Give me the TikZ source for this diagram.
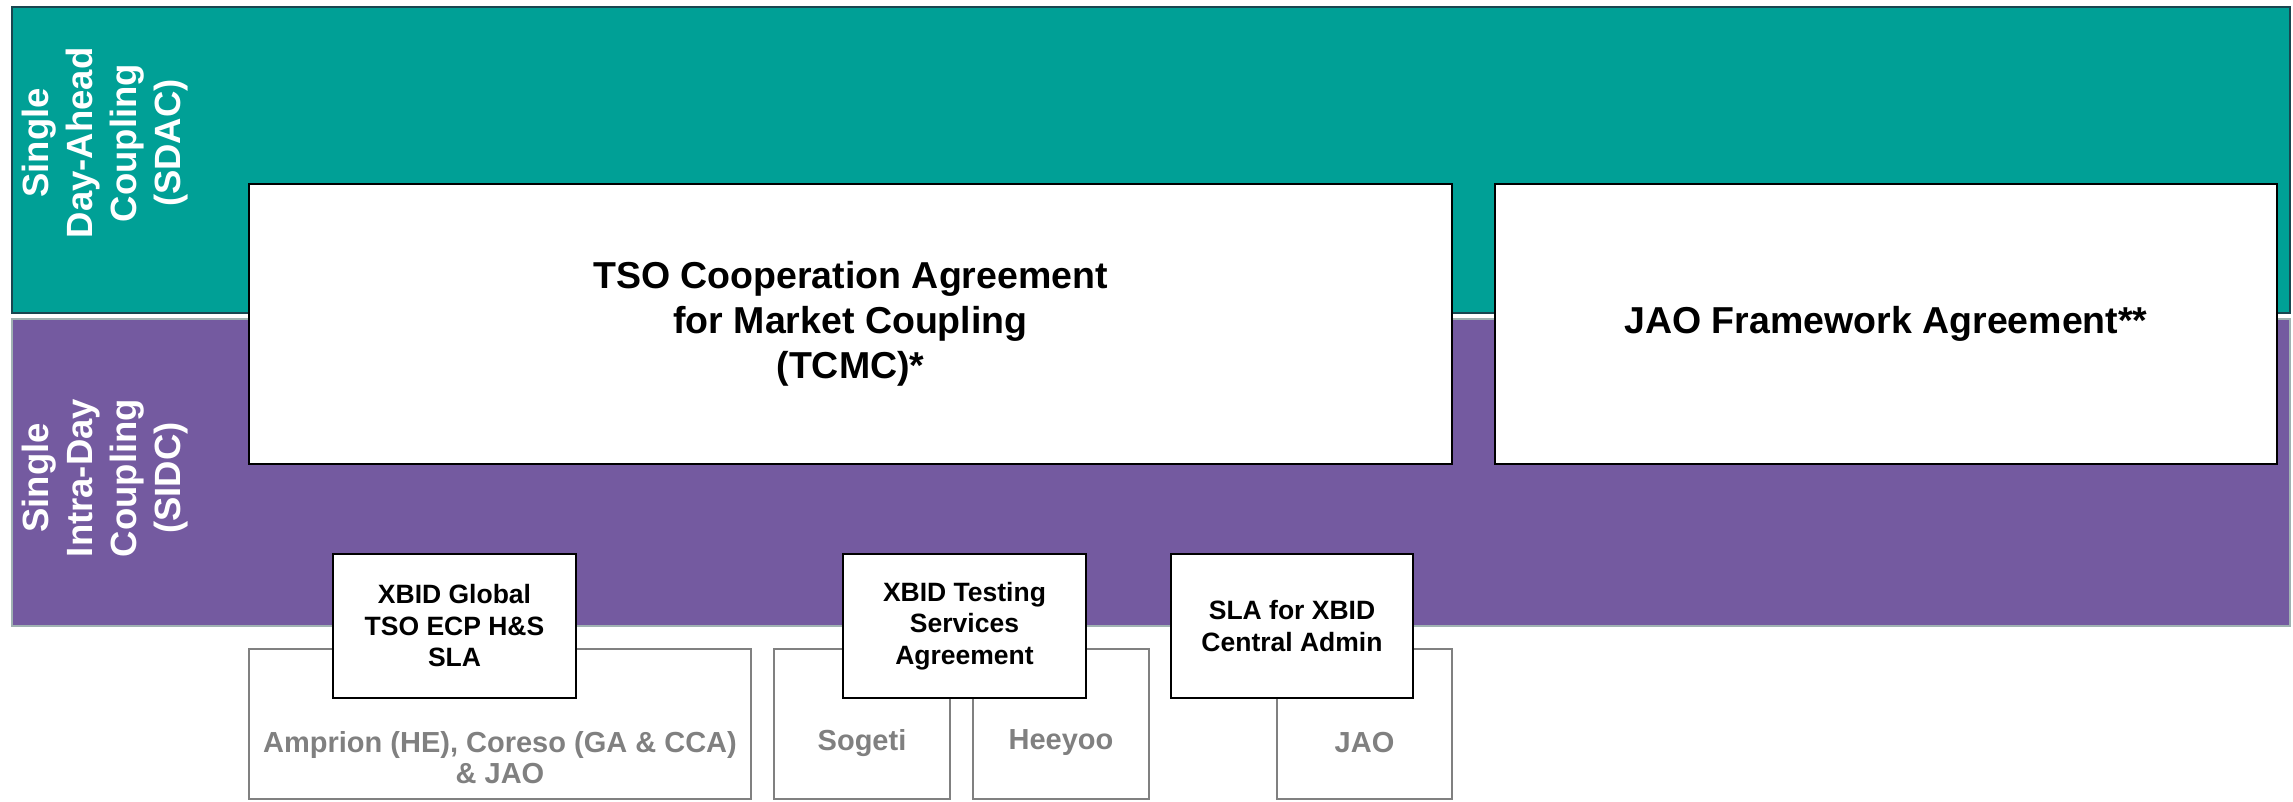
\documentclass[tikz,border=0pt]{standalone}
\usepackage{fontspec}
\setmainfont{Liberation Sans}
\definecolor{teal}{RGB}{0,160,150}
\definecolor{purp}{RGB}{116,90,160}
\definecolor{tealline}{RGB}{25,70,80}
\definecolor{purpline}{RGB}{160,178,178}
\definecolor{grayc}{RGB}{128,128,128}
\begin{document}
\begin{tikzpicture}[x=1pt,y=-1pt,
  band/.style={rectangle,inner sep=0pt,outer sep=0pt},
  bigbox/.style={rectangle,draw=black,line width=2.5pt,fill=white,inner sep=0pt,outer sep=0pt,align=center,
    font=\fontsize{37.5}{45}\selectfont\bfseries},
  agbox/.style={rectangle,draw=black,line width=2.5pt,fill=white,inner sep=0pt,outer sep=0pt,align=center,
    minimum width=243pt,minimum height=144pt,font=\fontsize{26.5}{31.5}\selectfont\bfseries},
  grbox/.style={rectangle,draw=grayc,line width=2pt,inner sep=0pt,outer sep=0pt,minimum height=150pt},
  grtext/.style={inner sep=0pt,align=center,text=grayc,font=\fontsize{29}{31}\selectfont\bfseries},
  side/.style={inner sep=0pt,align=center,text=white,rotate=90,font=\fontsize{36.5}{44}\selectfont\bfseries}]
\path[use as bounding box] (0,0) rectangle (2293,801);
% bands
\node[band,fill=teal,draw=tealline,line width=2pt,minimum width=2278pt,minimum height=306pt] (sdac) at (1151,160) {};
\node[band,fill=purp,draw=purpline,line width=2.5pt,minimum width=2278pt,minimum height=307pt] (sidc) at (1151,472.5) {};
\node[side] (sdact) at (105,143) {Single\\Day-Ahead\\Coupling\\(SDAC)};
\node[side] (sidct) at (105,478) {Single\\Intra-Day\\Coupling\\(SIDC)};
% big agreements
\node[bigbox,minimum width=1203pt,minimum height=280pt] (tcmc) at (850.5,324) {TSO Cooperation Agreement\\for Market Coupling\\(TCMC)*};
\node[bigbox,minimum width=782pt,minimum height=280pt] (jaofa) at (1886,324) {JAO Framework Agreement**};
% gray parties
\node[grbox,minimum width=502pt] (amp) at (500,724) {};
\node[grbox,minimum width=176pt] (sog) at (862,724) {};
\node[grbox,minimum width=176pt] (hee) at (1061,724) {};
\node[grbox,minimum width=175pt] (jao) at (1364.5,724) {};
\node[grtext] (ampt) at (500,758) {Amprion (HE), Coreso (GA \& CCA)\\\& JAO};
\node[grtext] (sogt) at (862,743) {Sogeti};
\node[grtext] (heet) at (1061,743) {Heeyoo};
\node[grtext] (jaot) at (1364.5,743) {JAO};
% small agreements
\node[agbox] (xgl) at (454.5,626) {XBID Global\\TSO ECP H\&S\\SLA};
\node[agbox] (xts) at (964.5,626) {XBID Testing\\Services\\Agreement};
\node[agbox,minimum width=242pt] (sla) at (1292,626) {SLA for XBID\\Central Admin};
\end{tikzpicture}
\end{document}
